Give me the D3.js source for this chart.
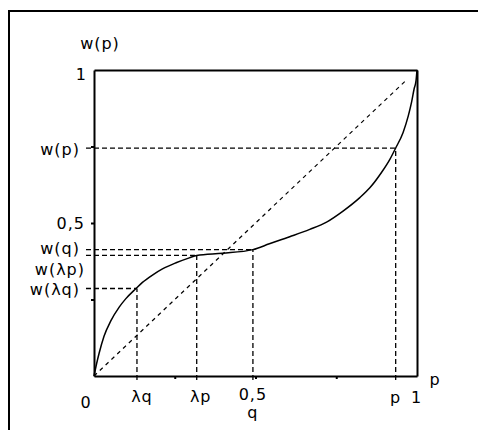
<!DOCTYPE html>
<html>
<head>
<meta charset="utf-8">
<script src="https://cdn.jsdelivr.net/npm/d3@7"></script>
<style>
  html, body { margin: 0; padding: 0; background: #fff; }
  svg text { font-family: "DejaVu Sans", Verdana, sans-serif; font-size: 16px; fill: #000; letter-spacing: 1px; }
</style>
</head>
<body>
<svg id="chart" width="478" height="430"></svg>
<script>
// ---- data ----
const curveP = [0, 0.008, 0.016, 0.031, 0.052, 0.078, 0.098, 0.130, 0.150, 0.181, 0.212, 0.254, 0.295, 0.318, 0.398, 0.492, 0.543, 0.606, 0.668, 0.720, 0.771, 0.823, 0.854, 0.890, 0.916, 0.934, 0.957, 0.973, 0.983, 0.991, 0.997, 1.0];
const curveW = [0, 0.040, 0.075, 0.130, 0.180, 0.225, 0.252, 0.286, 0.306, 0.330, 0.350, 0.370, 0.386, 0.394, 0.401, 0.413, 0.432, 0.455, 0.479, 0.503, 0.539, 0.583, 0.615, 0.665, 0.708, 0.745, 0.796, 0.850, 0.894, 0.938, 0.965, 1.0];
const diagP = [0, 0.965];
const guideNames = ["λq", "λp", "q", "p"];
const guideP = [0.133, 0.318, 0.492, 0.934];
const guideW = [0.286, 0.394, 0.413, 0.745];
const yLabels = ["1", "w(p)", "0,5", "w(q)", "w(λp)", "w(λq)"];
const yLabelValues = [1, 0.745, 0.5, 0.413, 0.394, 0.286];
const xLabels = ["0", "λq", "λp", "0,5", "q", "p", "1"];
const xLabelValues = [0, 0.133, 0.318, 0.492, 0.492, 0.934, 1];
const tickValues = [0.25, 0.5, 0.75];

// ---- layout ----
const svg = d3.select("#chart");
const x = d3.scaleLinear().domain([0, 1]).range([94, 417]);
const y = d3.scaleLinear().domain([0, 1]).range([376, 70]);

// outer frame (left and top only)
svg.append("path").attr("d", "M9,430V11H478").attr("fill", "none").attr("stroke", "#000").attr("stroke-width", 2);

// axes
const axB = svg.append("g").attr("transform", `translate(0,${y(0)})`)
  .call(d3.axisBottom(x).tickValues(tickValues).tickSize(3).tickSizeOuter(0).tickFormat(""));
const axL = svg.append("g").attr("transform", `translate(${x(0)},0)`)
  .call(d3.axisLeft(y).tickValues(tickValues).tickSize(3).tickSizeOuter(0).tickFormat(""));
const axT = svg.append("g").attr("transform", `translate(0,${y(1)})`)
  .call(d3.axisTop(x).tickValues([]).tickSizeOuter(0));
const axR = svg.append("g").attr("transform", `translate(${x(1)},0)`)
  .call(d3.axisRight(y).tickValues([]).tickSizeOuter(0));
[axB, axL, axT, axR].forEach(g => {
  g.selectAll(".domain").attr("stroke", "#000").attr("stroke-width", 2);
  g.selectAll(".tick line").attr("stroke", "#000").attr("stroke-width", 2);
});

// diagonal
svg.append("line")
  .attr("x1", x(diagP[0])).attr("y1", y(diagP[0]))
  .attr("x2", x(diagP[1])).attr("y2", y(diagP[1]))
  .attr("stroke", "#000").attr("stroke-width", 1.2).attr("stroke-dasharray", "4,4");

// guide lines
guideP.forEach((p, i) => {
  svg.append("line")
    .attr("x1", x(0) - 8).attr("y1", y(guideW[i]))
    .attr("x2", x(p)).attr("y2", y(guideW[i]))
    .attr("stroke", "#000").attr("stroke-width", 1.3).attr("stroke-dasharray", "5,3");
  svg.append("line")
    .attr("x1", x(p)).attr("y1", y(0) + 4)
    .attr("x2", x(p)).attr("y2", y(guideW[i]))
    .attr("stroke", "#000").attr("stroke-width", 1.3).attr("stroke-dasharray", "5,3");
});

// curve
const line = d3.line().x(d => x(d[0])).y(d => y(d[1])).curve(d3.curveMonotoneX);
svg.append("path")
  .datum(curveP.map((p, i) => [p, curveW[i]]))
  .attr("d", line)
  .attr("fill", "none").attr("stroke", "#000").attr("stroke-width", 1.5);

// y labels
const yDy = [4, 1, 0, -1, 14, 1];
const yDx = [-7, -14, -9, -14, -9, -14];
yLabels.forEach((t, i) => {
  svg.append("text")
    .attr("x", x(0) + yDx[i]).attr("y", y(yLabelValues[i]) + yDy[i])
    .attr("dy", "0.35em").attr("text-anchor", "end").text(t);
});

// x labels
const xLabY = [408, 402, 402, 400, 418, 403, 403];
const xLabDx = [-8, 5, 4, 0, 0, 0, -6];
xLabels.forEach((t, i) => {
  svg.append("text")
    .attr("x", x(xLabelValues[i]) + xLabDx[i]).attr("y", xLabY[i])
    .attr("text-anchor", i === 6 ? "start" : "middle").text(t);
});

// axis titles
svg.append("text").attr("x", 100).attr("y", 49).attr("text-anchor", "middle").text("w(p)");
svg.append("text").attr("x", 435).attr("y", 385).attr("text-anchor", "middle").text("p");
</script>
</body>
</html>
